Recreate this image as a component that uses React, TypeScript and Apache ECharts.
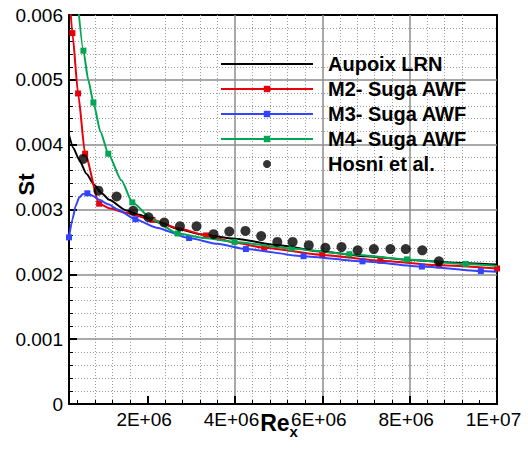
import { useEffect, useRef } from 'react';
import * as echarts from 'echarts';

// ---- data ----
const X_MIN = 2e5;
const X_MAX = 1e7;
const xMajorTicks = [2e6, 4e6, 6e6, 8e6, 1e7];
const X_MINOR_STEP = 4e5;

const aupoixRe = [2e5, 3e5, 4.3e5, 6e5, 7.75e5, 9.5e5, 1.12e6, 1.5e6, 1.8e6, 2.3e6, 2.74e6, 3.2e6, 4e6, 5e6, 6e6, 7e6, 8e6, 9e6, 1e7];
const aupoixSt = [0.00415, 0.00395, 0.00377, 0.00355, 0.00338, 0.00325, 0.00315, 0.00299, 0.00292, 0.00279, 0.00269, 0.00262, 0.00255, 0.00245, 0.00235, 0.00228, 0.00222, 0.00218, 0.00215];

const m2Re = [2e5, 2.78e5, 4.08e5, 5.69e5, 8.9e5, 1.12e6, 1.5e6, 2.11e6, 2.7e6, 3.34e6, 4.0e6, 4.67e6, 6.0e6, 7.33e6, 8.67e6, 1e7];
const m2St = [0.0064, 0.00572, 0.00479, 0.00386, 0.00309, 0.00302, 0.00295, 0.00284, 0.00271, 0.0026, 0.00249, 0.00241, 0.0023, 0.00221, 0.00214, 0.00209];
const m2Marked = [1, 2, 3, 4, 7, 9, 11, 12, 13, 14, 15];

const m3Re = [2e5, 2.8e5, 3.5e5, 4.3e5, 5.2e5, 6.2e5, 7.5e5, 8.9e5, 1.1e6, 1.31e6, 1.72e6, 2.2e6, 2.95e6, 3.6e6, 4.25e6, 5.57e6, 6.92e6, 8.28e6, 9.63e6, 1e7];
const m3St = [0.00257, 0.00285, 0.00305, 0.00318, 0.00324, 0.00325, 0.00321, 0.00315, 0.00308, 0.003, 0.00285, 0.00272, 0.00256, 0.00247, 0.00239, 0.00228, 0.0022, 0.00212, 0.00205, 0.00204];
const m3Marked = [0, 5, 10, 12, 14, 15, 16, 17, 18];

const m4Re = [3.8e5, 5.3e5, 6.4e5, 7.59e5, 9.2e5, 1.1e6, 1.4e6, 1.65e6, 2.1e6, 2.69e6, 3.3e6, 3.99e6, 5.3e6, 6.62e6, 7.94e6, 9.28e6, 1e7];
const m4St = [0.00635, 0.00545, 0.005, 0.00465, 0.0042, 0.00386, 0.00345, 0.00311, 0.00285, 0.00263, 0.00256, 0.0025, 0.0024, 0.00231, 0.00223, 0.00216, 0.00213];
const m4Marked = [1, 3, 5, 7, 9, 11, 12, 13, 14, 15];

const hosniRe = [5.23e5, 8.74e5, 1.29e6, 1.67e6, 2.02e6, 2.38e6, 2.74e6, 3.12e6, 3.51e6, 3.87e6, 4.24e6, 4.6e6, 4.97e6, 5.32e6, 5.69e6, 6.07e6, 6.44e6, 6.81e6, 7.18e6, 7.56e6, 7.91e6, 8.29e6, 8.67e6];
const hosniSt = [0.00378, 0.00329, 0.0032, 0.00298, 0.00288, 0.0028, 0.00274, 0.00274, 0.00262, 0.00266, 0.00267, 0.00259, 0.0025, 0.0025, 0.00245, 0.00241, 0.00242, 0.00237, 0.00239, 0.00239, 0.00239, 0.00237, 0.0022];

const names = ['Aupoix LRN', 'M2- Suga AWF', 'M3- Suga AWF', 'M4- Suga AWF', 'Hosni et al.'];

const FONT = '"Liberation Sans", Arial, Helvetica, sans-serif';

function lineData(xs: number[], ys: number[], marked: number[] | null) {
  return xs.map((x, i) => ({
    value: [x, ys[i]],
    symbol: marked && marked.includes(i) ? 'rect' : 'none',
  }));
}

function fmtX(v: number) {
  const e = Math.floor(Math.log10(v) + 1e-9);
  const m = Math.round(v / Math.pow(10, e));
  return `${m}E+${String(e).padStart(2, '0')}`;
}

export default function App() {
  const ref = useRef<HTMLDivElement>(null);
  useEffect(() => {
    if (!ref.current) return;
    const chart = echarts.init(ref.current, null, { renderer: 'svg' });
    const xMinorTicks: number[] = [];
    for (let v = X_MINOR_STEP; v < X_MAX; v += X_MINOR_STEP) {
      const r = Math.round(v);
      if (!xMajorTicks.includes(r)) xMinorTicks.push(r);
    }
    const lineCommon = {
      type: 'line' as const,
      xAxisIndex: 0,
      yAxisIndex: 0,
      smooth: 0.2,
      smoothMonotone: 'x' as const,
      symbolSize: 6,
      showSymbol: true,
      clip: true,
      silent: true,
    };
    chart.setOption({
      animation: false,
      backgroundColor: '#fff',
      textStyle: { fontFamily: FONT },
      grid: {
        left: 69, right: 31, top: 15, bottom: 52,
        outerBoundsMode: 'none', containLabel: false,
        show: true, borderColor: '#000', borderWidth: 2, backgroundColor: 'transparent',
      },
      legend: {
        orient: 'vertical',
        left: 215,
        top: 49,
        itemWidth: 92,
        itemHeight: 8,
        itemGap: 5,
        selectedMode: false,
        textStyle: { fontSize: 20, fontWeight: 'bold', color: '#000', fontFamily: FONT, padding: [0, 0, 0, 10] },
        data: [
          { name: names[0], itemStyle: { opacity: 0 } },
          { name: names[1] },
          { name: names[2] },
          { name: names[3] },
          { name: names[4] },
        ],
      },
      xAxis: [
        {
          type: 'value',
          min: X_MIN,
          max: X_MAX,
          position: 'bottom',
          axisLine: { show: true, onZero: false, lineStyle: { color: '#000', width: 2 } },
          axisTick: { show: true, inside: true, length: 8, customValues: xMajorTicks, lineStyle: { color: '#000', width: 2 } },
          axisLabel: { customValues: xMajorTicks, formatter: fmtX, fontSize: 19, color: '#000', margin: 6, padding: [0, 7, 0, 0], fontFamily: FONT, showMinLabel: true, showMaxLabel: true },
          splitLine: { show: true, showMinLine: false, showMaxLine: false, lineStyle: { color: '#8c8c8c', width: 1.5 } },
          name: '{r|Re}{s|x}',
          nameLocation: 'middle',
          nameGap: 7,
          nameMoveOverlap: false,
          nameTextStyle: {
            padding: [0, 8, 0, 0],
            rich: {
              r: { fontSize: 23, fontWeight: 'bold', color: '#000', fontFamily: FONT, lineHeight: 26, verticalAlign: 'top' },
              s: { fontSize: 15, fontWeight: 'bold', color: '#000', fontFamily: FONT, lineHeight: 15, verticalAlign: 'top', padding: [13, 0, 0, 0] },
            },
          },
        },
        {
          type: 'value',
          min: X_MIN,
          max: X_MAX,
          position: 'bottom',
          axisLine: { show: false },
          axisLabel: { show: false },
          axisTick: { show: true, inside: true, length: 4, customValues: xMinorTicks, lineStyle: { color: '#000', width: 1 } },
          splitLine: { show: true, showMinLine: false, showMaxLine: false, lineStyle: { color: '#9a9a9a', width: 1, type: [1, 2] } },
        },
      ],
      yAxis: [
        {
          type: 'value',
          min: 0,
          max: 0.006,
          interval: 0.001,
          axisLine: { show: true, onZero: false, lineStyle: { color: '#000', width: 2 } },
          axisTick: { show: true, inside: true, length: 8, lineStyle: { color: '#000', width: 2 } },
          minorTick: { show: true, splitNumber: 5, length: 4, lineStyle: { color: '#000', width: 1 } },
          axisLabel: { fontSize: 19, color: '#000', margin: -9, padding: [0, 15, 0, 0], fontFamily: FONT, formatter: (v: number) => (v === 0 ? '0' : v.toFixed(3)) },
          splitLine: { show: true, showMinLine: false, showMaxLine: false, lineStyle: { color: '#8c8c8c', width: 1.5 } },
          minorSplitLine: { show: true, lineStyle: { color: '#9a9a9a', width: 1, type: [1, 2] } },
          name: 'St',
          nameLocation: 'middle',
          nameGap: 32,
          nameRotate: 90,
          nameMoveOverlap: false,
          nameTextStyle: { fontSize: 22, fontWeight: 'bold', color: '#000', fontFamily: FONT, padding: [0, 0, 0, 50] },
        },
      ],
      series: [
        {
          ...lineCommon,
          name: names[0],
          symbol: 'rect',
          data: lineData(aupoixRe, aupoixSt, null),
          lineStyle: { color: '#000', width: 2 },
          itemStyle: { color: '#000' },
          z: 2,
        },
        {
          ...lineCommon,
          name: names[1],
          symbol: 'rect',
          data: lineData(m2Re, m2St, m2Marked),
          lineStyle: { color: '#e8000b', width: 2 },
          itemStyle: { color: '#e8000b' },
          z: 3,
        },
        {
          ...lineCommon,
          name: names[2],
          symbol: 'rect',
          data: lineData(m3Re, m3St, m3Marked),
          lineStyle: { color: '#3344ff', width: 2 },
          itemStyle: { color: '#3344ff' },
          z: 4,
        },
        {
          ...lineCommon,
          name: names[3],
          symbol: 'rect',
          data: lineData(m4Re, m4St, m4Marked),
          lineStyle: { color: '#00a651', width: 2 },
          itemStyle: { color: '#00a651' },
          z: 5,
        },
        {
          type: 'scatter',
          name: names[4],
          xAxisIndex: 0,
          yAxisIndex: 0,
          symbol: 'circle',
          symbolSize: 10,
          itemStyle: { color: '#000' },
          data: hosniRe.map((x, i) => [x, hosniSt[i]]),
          silent: true,
          z: 6,
        },
      ],
    });
    return () => chart.dispose();
  }, []);
  return <div ref={ref} style={{ position: 'fixed', left: 0, top: 0, width: 528, height: 456 }} />;
}
